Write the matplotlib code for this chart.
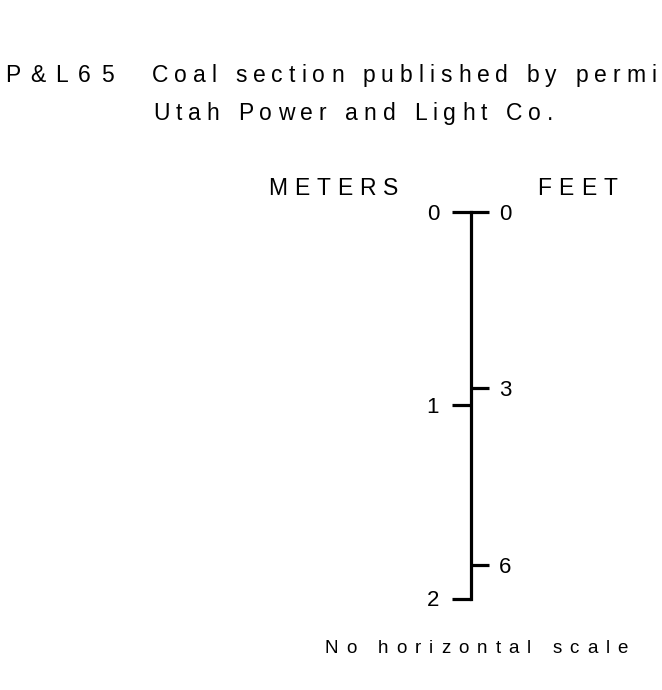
import matplotlib
matplotlib.use("Agg")
import matplotlib.pyplot as plt
from matplotlib.font_manager import FontProperties

plt.rcParams['font.family'] = ['Liberation Sans', 'DejaVu Sans']

# текст подписи (строка обрезана краем листа, как в оригинале)
code_label = "P&L65"
caption_1 = "Coal section published by permi"
caption_2 = "Utah Power and Light Co."
left_unit = "METERS"
right_unit = "FEET"
footer = "No horizontal scale"

# шкала
meter_ticks = [0, 1, 2]
meter_labels = ["0", "1", "2"]
feet_ticks = [0, 3, 6]
feet_labels = ["0", "3", "6"]
depth_m = 2.0
m_per_ft = 0.3048

W, H = 662, 690
fig = plt.figure(figsize=(W / 100, H / 100), dpi=100)
renderer = fig.canvas.get_renderer()

# слой для подписей в пикселях
ax_t = fig.add_axes([0, 0, 1, 1])
ax_t.set_xlim(0, W)
ax_t.set_ylim(H, 0)
ax_t.axis('off')


def advance(c, prop):
    w1, _, _ = renderer.get_text_width_height_descent('H' + c + 'H', prop, False)
    w0, _, _ = renderer.get_text_width_height_descent('HH', prop, False)
    return w1 - w0


def spaced(x, y, s, size, track):
    # рисуем строку по буквам с разрядкой
    prop = FontProperties(family='Liberation Sans', size=size)
    for c in s:
        if c != ' ':
            ax_t.text(x, y, c, fontproperties=prop, ha='left', va='baseline',
                      color='black')
        x += advance(c, prop) + track
    return x


spaced(5, 82, code_label, 16.5, 10)
spaced(152, 82, caption_1, 16.5, 6)
spaced(153, 120, caption_2, 16.5, 6)
spaced(268, 195, left_unit, 16.5, 7)
spaced(537, 195, right_unit, 16.5, 7.5)
spaced(325, 653, footer, 13.5, 8)

# вертикальная шкала
x0 = 471 / W
top = 1 - 211.5 / H
bot = 1 - 598.5 / H
ax = fig.add_axes([x0, bot, 0.0004, top - bot])
ax.set_ylim(depth_m, 0)
ax.set_xticks([])
for s in ['top', 'bottom', 'right']:
    ax.spines[s].set_visible(False)
ax.spines['left'].set_linewidth(2.3)
ax.patch.set_visible(False)
ax.set_yticks(meter_ticks)
ax.set_yticklabels(meter_labels)
ax.tick_params(axis='y', direction='out', length=14, width=2.3, pad=9,
               labelsize=16)

axf = ax.twinx()
axf.set_ylim(depth_m / m_per_ft, 0)
for s in ['top', 'bottom', 'left', 'right']:
    axf.spines[s].set_visible(False)
axf.set_yticks(feet_ticks)
axf.set_yticklabels(feet_labels)
axf.tick_params(axis='y', direction='out', length=13, width=2.3, pad=7,
                labelsize=16)

fig.savefig("out.png", dpi=100)
